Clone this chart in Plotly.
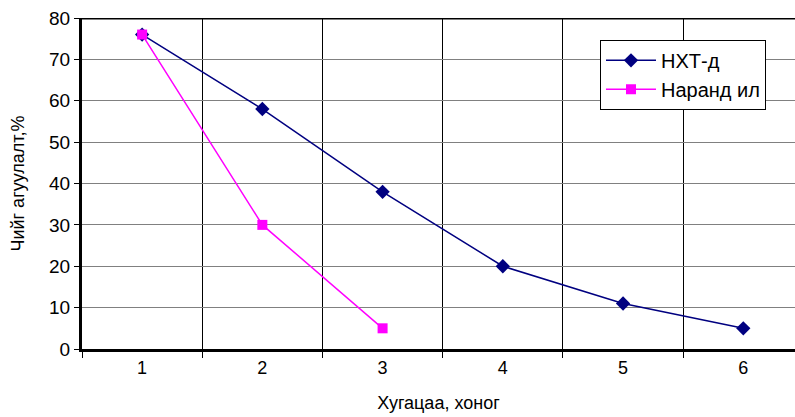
import plotly.graph_objects as go

days = [1, 2, 3, 4, 5, 6]
nxt_vals = [76, 58, 38, 20, 11, 5]
narand_days = [1, 2, 3]
narand_vals = [76, 30, 5]
y_ticks = [0, 10, 20, 30, 40, 50, 60, 70, 80]

font = "Liberation Sans, Arial, sans-serif"

fig = go.Figure()
fig.add_trace(go.Scatter(x=days, y=nxt_vals, mode="lines+markers", name="НХТ-д",
                         line=dict(color="#000080", width=1.5),
                         marker=dict(symbol="diamond", size=11, color="#000080")))
fig.add_trace(go.Scatter(x=narand_days, y=narand_vals, mode="lines+markers", name="Наранд ил",
                         line=dict(color="#FF00FF", width=1.5),
                         marker=dict(symbol="square", size=10, color="#FF00FF")))

fig.update_layout(
    width=795, height=417,
    margin=dict(l=82, r=0, t=18, b=68),
    paper_bgcolor="white", plot_bgcolor="white",
    font=dict(family=font, size=17, color="black"),
    showlegend=True,
    legend=dict(x=0.7265, y=0.934, xanchor="left", yanchor="top",
                bgcolor="white", bordercolor="black", borderwidth=1,
                font=dict(size=20, family=font), tracegroupgap=0, itemwidth=50),
    xaxis=dict(range=[0.5, 6.43], tickvals=days, ticktext=[str(d) for d in days],
               showgrid=False, ticks="", showline=True, linecolor="black", linewidth=3,
               zeroline=False,
               minor=dict(tickvals=[0.5, 1.5, 2.5, 3.5, 4.5, 5.5], showgrid=True,
                          gridcolor="black", gridwidth=1, ticks="outside", ticklen=6,
                          tickcolor="black"),
               title=dict(text="Хугацаа, хоног", font=dict(size=18, family=font), standoff=20),
               tickfont=dict(size=18, family=font)),
    yaxis=dict(range=[0, 80], tickvals=y_ticks, showgrid=True, gridcolor="#808080",
               gridwidth=1, ticks="outside", ticklen=5, tickcolor="black",
               showline=True, linecolor="black", linewidth=3, zeroline=False,
               title=dict(text="Чийг агуулалт,%", font=dict(size=18, family=font), standoff=20),
               tickfont=dict(size=19, family=font)),
)
fig.add_shape(type="line", xref="paper", yref="y", x0=0, x1=1, y0=80, y1=80,
              line=dict(color="black", width=3))

fig.write_html("out.html")
